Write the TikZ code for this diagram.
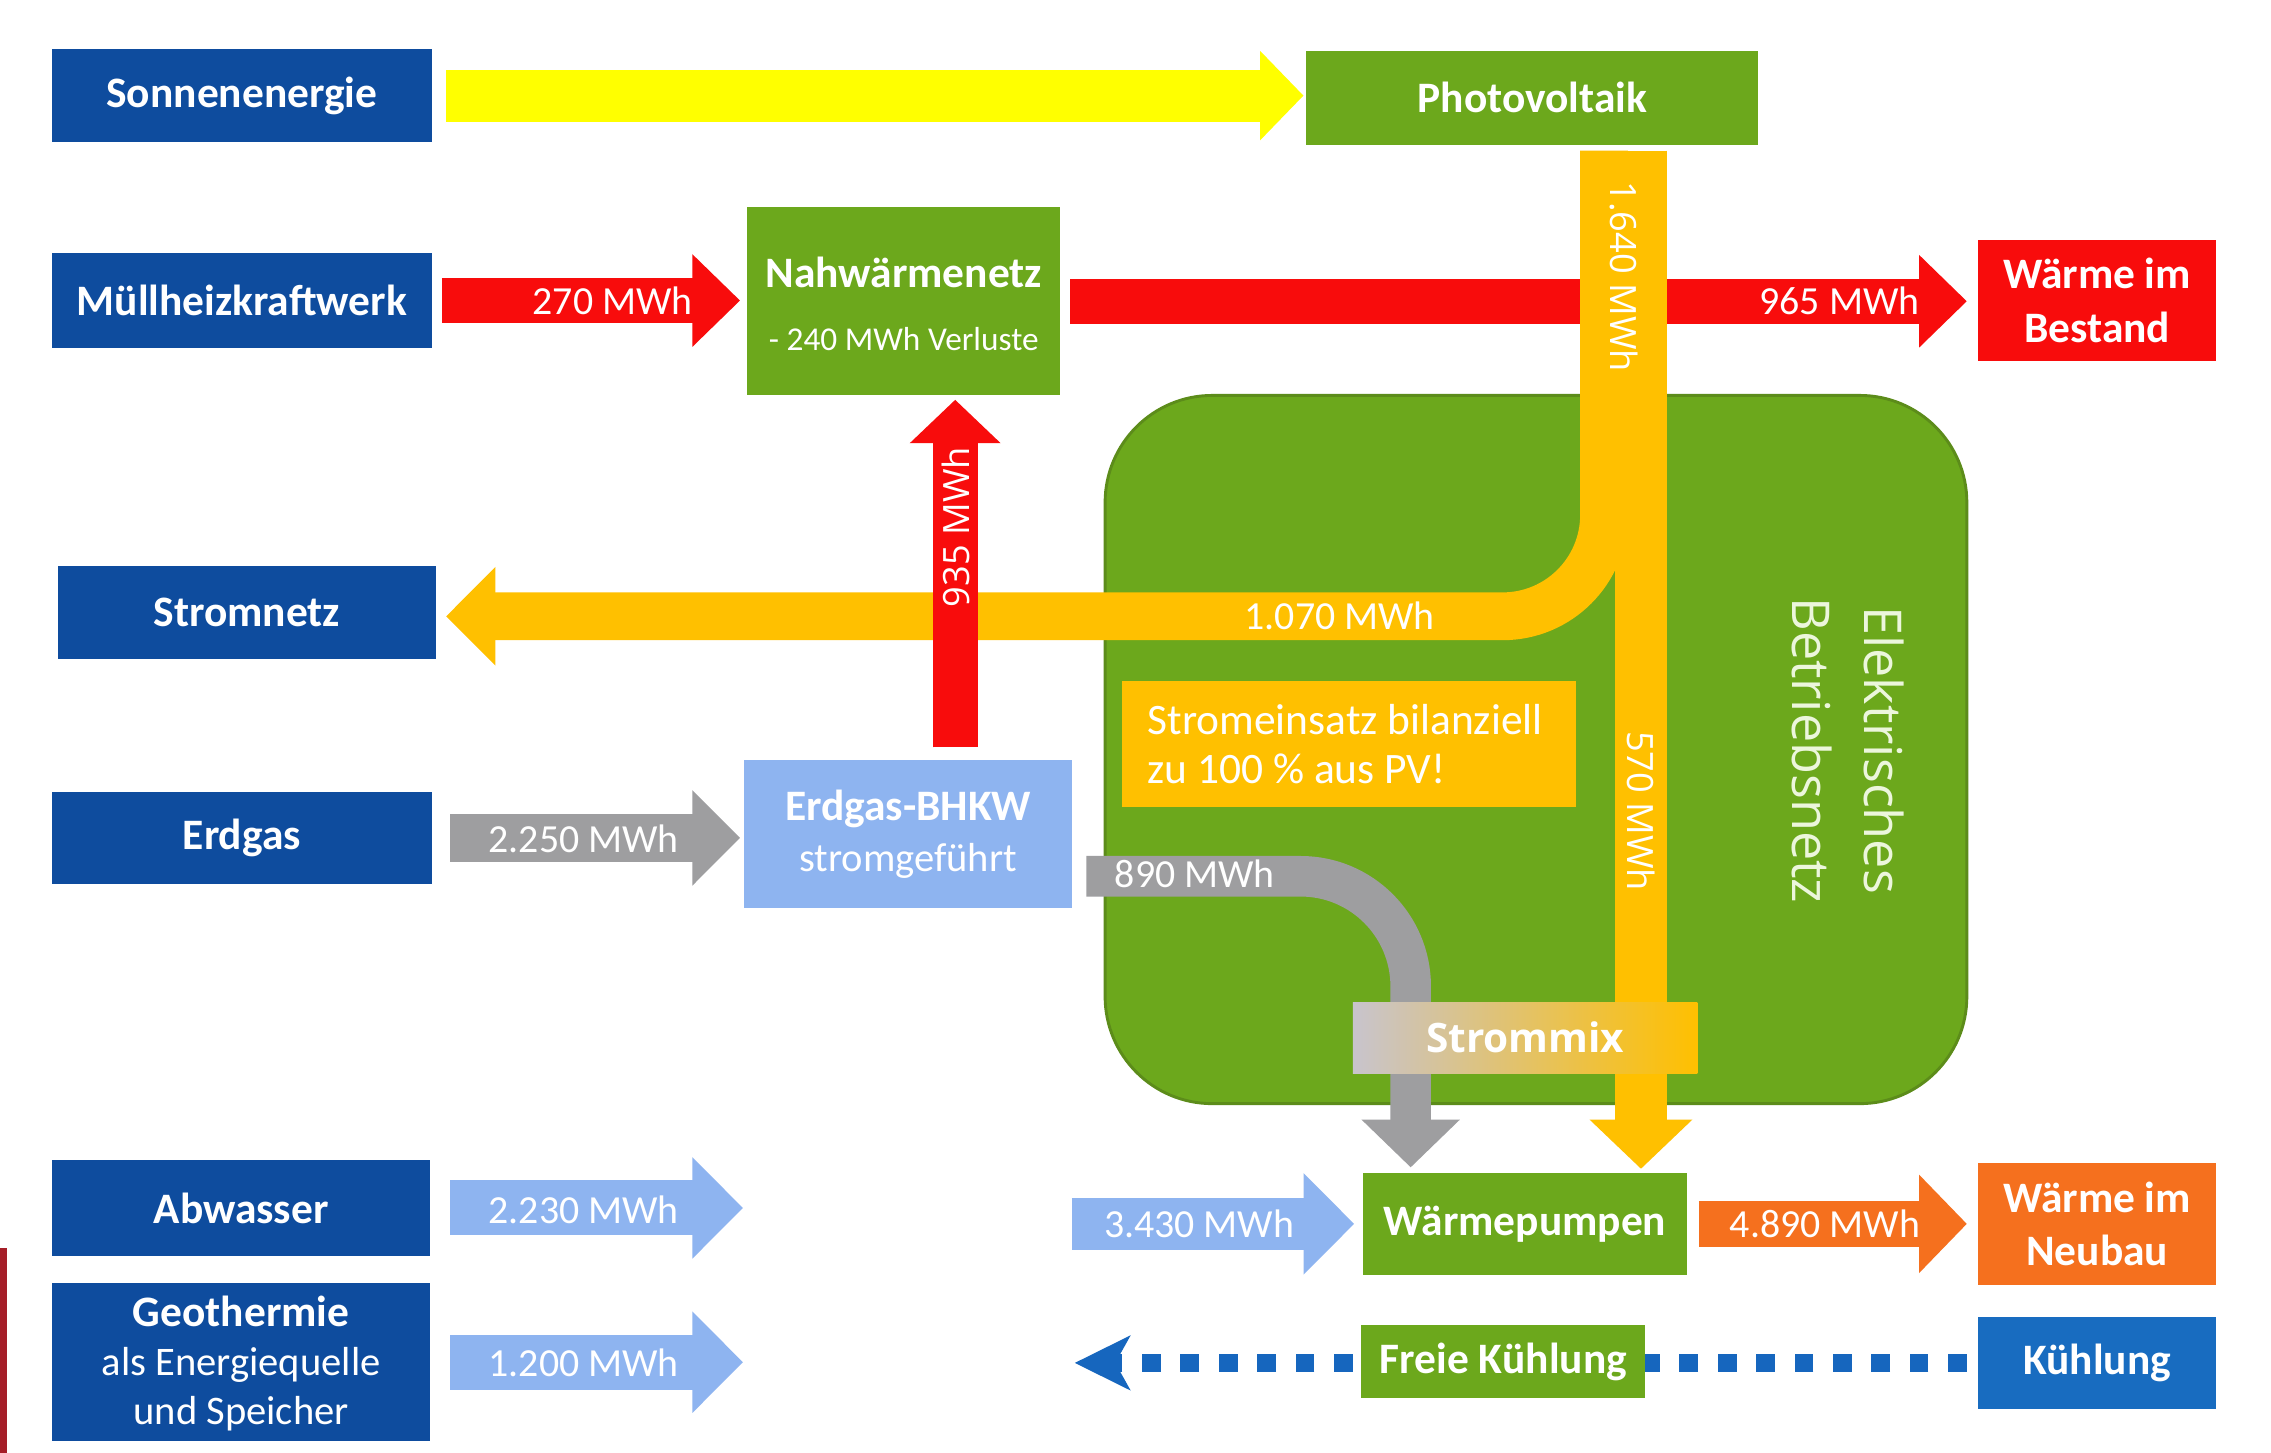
\documentclass[tikz,border=0pt]{standalone}
\usepackage{fontspec}
\setmainfont{Carlito}
\newfontfamily\osans{Open Sans}
\usetikzlibrary{arrows.meta,fit,calc}
\definecolor{navy}{RGB}{14,76,158}
\definecolor{kblue}{RGB}{24,108,192}
\definecolor{lgreen}{RGB}{108,168,28}
\definecolor{dgreen}{RGB}{92,140,26}
\definecolor{fred}{RGB}{248,12,12}
\definecolor{fyellow}{RGB}{255,255,0}
\definecolor{amber}{RGB}{255,192,0}
\definecolor{fgray}{RGB}{158,158,160}
\definecolor{lblue}{RGB}{142,180,240}
\definecolor{forange}{RGB}{245,112,30}
\definecolor{dblue}{RGB}{22,102,190}
\definecolor{maroon}{RGB}{165,30,40}
\definecolor{pale}{RGB}{236,246,220}
\definecolor{mixgray}{RGB}{200,196,205}
\newcommand\bxf{\fontsize{15}{18.5}\selectfont\bfseries}
\newcommand\rgf{\fontsize{14}{17}\selectfont}
\newcommand\lbf{\fontsize{13.75}{16}\selectfont}
\newcommand\osf{\osans\fontsize{12.5}{15}\selectfont}
\tikzset{
  box/.style={inner sep=0pt, outer sep=0pt},
  txt/.style={inner sep=0pt, outer sep=0pt, text=white, align=center, font=\bxf},
  navybox/.style={box, fill=navy},
  greenbox/.style={box, fill=lgreen},
  lbl/.style={text=white, font=\lbf, inner sep=0pt},
  barrow/.style args={#1/#2/#3/#4}{draw=#1, line width=#2, -{Triangle[length=#3, width=#4]}},
}
\begin{document}
\begin{tikzpicture}[x=0.5pt,y=-0.5pt]
\fill[white] (0,0) rectangle (1568,1003);
\useasboundingbox (0,0) rectangle (1568,1003);
\fill[maroon] (0,862) rectangle (5,1003);

% big electrical grid area
\node[fit={(763,273)(1358,762)}, inner sep=0pt, outer sep=0pt, fill=lgreen, draw=dgreen, line width=1pt, rounded corners=37pt] (betrieb) {};
\node[rotate=-90, align=center, text=pale, font=\osans\fontsize{18}{25}\selectfont, inner sep=0pt] (betriebtxt) at (1276,518) {Elektrisches\\Betriebsnetz};

% boxes
\node[navybox, fit={(36,34)(298,98)}] (sonne) {};
\node[navybox, fit={(36,175)(298,240)}] (muell) {};
\node[navybox, fit={(40,391)(301,455)}] (strom) {};
\node[navybox, fit={(36,547)(298,610)}] (erdgas) {};
\node[navybox, fit={(36,801)(297,867)}] (abw) {};
\node[navybox, fit={(36,886)(297,995)}] (geo) {};
\node[greenbox, fit={(902,35)(1214,100)}] (pv) {};
\node[greenbox, fit={(516,143)(732,273)}] (nahw) {};
\node[box, fill=fred, fit={(1366,166)(1530,249)}] (bestand) {};
\node[box, fill=lblue, fit={(514,525)(740,627)}] (bhkw) {};
\node[greenbox, fit={(941,810)(1165,880)}] (wp) {};
\node[box, fill=forange, fit={(1366,803)(1530,887)}] (neubau) {};
\node[box, fill=kblue, fit={(1366,909)(1530,973)}] (kuehl) {};

\node[txt] (sonnet) at (sonne.center) {Sonnenenergie};
\node[txt] (muellt) at (muell.center) {Müllheizkraftwerk};
\node[txt] (stromt) at (strom.center) {Stromnetz};
\node[txt] (erdgast) at (erdgas.center) {Erdgas};
\node[txt] (abwt) at (abw.center) {Abwasser};
\node[txt, font=\rgf] (geot) at ($(geo.center)+(0,1)$) {{\fontsize{15}{17}\selectfont\bfseries Geothermie}\\als Energiequelle\\und Speicher};
\node[txt] (pvt) at (pv.center) {Photovoltaik};
\node[txt] (nahwt1) at ($(nahw.center)+(0,-20)$) {Nahwärmenetz};
\node[txt, font=\fontsize{11.5}{14}\selectfont] (nahwt2) at ($(nahw.center)+(0,26)$) {- 240 MWh Verluste};
\node[txt] (bestandt) at (bestand.center) {Wärme im\\Bestand};
\node[txt, font=\fontsize{14}{17.5}\selectfont] (bhkwt) at (bhkw.center) {{\fontsize{15}{17.5}\selectfont\bfseries Erdgas-BHKW}\\stromgeführt};
\node[txt] (wpt) at (wp.center) {Wärmepumpen};
\node[txt] (neubaut) at (neubau.center) {Wärme im\\Neubau};
\node[txt] (kuehlt) at (kuehl.center) {Kühlung};

% coordinates
\coordinate (y0) at ($(sonne.east)+(10,0)$);
\coordinate (y1) at ($(sonne.east -| pv.west)+(-2,0)$);
\coordinate (m0) at ($(muell.east)+(7,0)$);
\coordinate (m1) at ($(muell.east -| nahw.west)+(-5,0)$);
\coordinate (n0) at ($(nahw.east)+(7,0)$);
\coordinate (n1) at ($(nahw.east -| bestand.west)+(-8,0)$);
\coordinate (o1) at ($(pv.south)+(75,4)$);
\coordinate (o1w) at (o1 |- wp.north);
\coordinate (o1e) at ($(o1w)+(0,-3)$);
\coordinate (o2) at ($(pv.south)+(49.5,4)$);
\coordinate (sn) at ($(strom.east)+(7,2.5)$);
\coordinate (r0) at ($(bhkw.north)+(32.5,-9)$);
\coordinate (r1w) at (r0 |- nahw.south);
\coordinate (r1) at ($(r1w)+(0,3)$);
\coordinate (e0) at ($(erdgas.east)+(13,0)$);
\coordinate (e1) at ($(erdgas.east -| bhkw.west)+(-3,0)$);
\coordinate (g0) at ($(bhkw.east)+(10,29)$);
\coordinate (g1) at ($(wp.north)+(-79,-4)$);
\coordinate (a0) at ($(abw.east)+(14,0)$);
\coordinate (a1) at ($(abw.east)+(216,0)$);
\coordinate (t0) at ($(geo.east)+(14,0)$);
\coordinate (t1) at ($(geo.east)+(216,0)$);
\coordinate (h0) at ($(wp.west)+(-201,0)$);
\coordinate (h1) at ($(wp.west)+(-6,0)$);
\coordinate (w0) at ($(wp.east)+(8,0)$);
\coordinate (w1) at ($(wp.east -| neubau.west)+(-8,0)$);
\coordinate (d0) at ($(kuehl.west)+(-8,0)$);
\coordinate (d1) at ($(kuehl.west)+(-624,0)$);

% arrows
\draw[barrow=fyellow/18pt/15pt/30pt] (y0) -- (y1);
\draw[barrow=fred/15.5pt/16.5pt/31pt] (m0) -- (m1);
\draw[barrow=fred/15.5pt/16.5pt/31pt] (n0) -- (n1);
\draw[barrow=amber/18pt/17pt/34.5pt] (o1) -- (o1e);
\draw[barrow=amber/16.5pt/17pt/33pt, rounded corners=35pt] (o2) |- (sn);
\draw[barrow=fred/15.5pt/15pt/30.5pt] (r0) -- (r1);
\draw[barrow=fgray/16.5pt/16.5pt/32pt] (e0) -- (e1);
\draw[barrow=fgray/14pt/16.5pt/33pt, rounded corners=38pt] (g0) -| (g1);
\draw[barrow=lblue/19pt/17.5pt/34pt] (a0) -- (a1);
\draw[barrow=lblue/19pt/17.5pt/34pt] (t0) -- (t1);
\draw[barrow=lblue/18pt/17.5pt/34pt] (h0) -- (h1);
\draw[barrow=forange/16pt/16.5pt/33pt] (w0) -- (w1);
\draw[dblue, line width=6.5pt, dash pattern=on 6.5pt off 6.75pt, -{Stealth[length=19pt, width=18.5pt, inset=5pt]}] (d0) -- (d1);

% boxes on top of arrows
\node[box, fill=amber, fit={(775,470)(1088,557)}] (einsatz) {};
\node[text=white, align=left, anchor=west, inner sep=0pt, font=\fontsize{15}{17}\selectfont] (einsatztxt) at (792,514) {Stromeinsatz bilanziell\\zu 100 \% aus PV!};
\node[box, left color=mixgray, right color=amber, fit={(934,692)(1172,741)}] (mix) {};
\node[txt, font=\osans\bfseries\fontsize{14}{16}\selectfont] (mixt) at (mix.center) {Strommix};
\node[greenbox, fit={(940,915)(1136,965)}] (fk) {};
\node[txt] (fkt) at (fk.center) {Freie Kühlung};

% labels
\node[lbl] (l270) at (423,208) {270 MWh};
\node[lbl] (l965) at (1270,208) {965 MWh};
\node[lbl] (l2250) at (403,579) {2.250 MWh};
\node[lbl] (l2230) at (403,835) {2.230 MWh};
\node[lbl] (l1200) at (403,941) {1.200 MWh};
\node[lbl] (l3430) at (828,845) {3.430 MWh};
\node[lbl] (l4890) at (1260,845) {4.890 MWh};
\node[lbl] (l890) at (825,603) {890 MWh};
\node[lbl] (l1070) at (925,425) {1.070 MWh};
\node[lbl, font=\osf, rotate=-90] (l1640) at (1121,191) {1.640 MWh};
\node[lbl, font=\osf, rotate=-90] (l570) at (1133,560) {570 MWh};
\node[lbl, font=\osf, rotate=90] (l935) at (660,364) {935 MWh};
\end{tikzpicture}
\end{document}
